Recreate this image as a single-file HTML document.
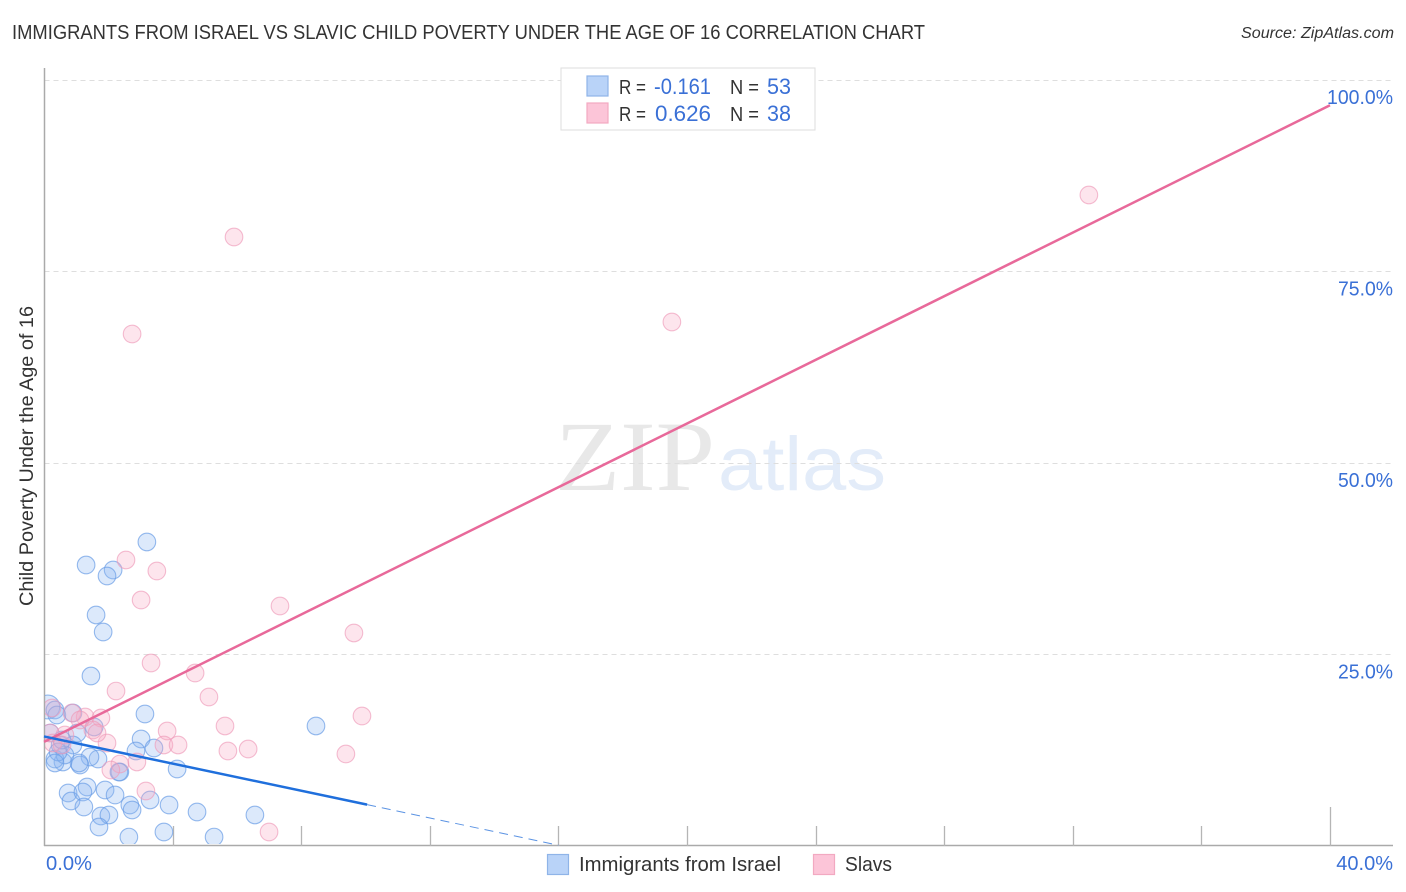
<!DOCTYPE html>
<html lang="en">
<head>
<meta charset="utf-8">
<title>Immigrants from Israel vs Slavic Child Poverty Correlation Chart</title>
<style>
  html, body { margin: 0; padding: 0; background: #fff; }
  svg { display: block; font-family: "Liberation Sans", sans-serif; }
</style>
</head>
<body>
<svg id="chart" xmlns="http://www.w3.org/2000/svg" width="1406" height="892" viewBox="0 0 1406 892">
  <defs>
    <clipPath id="plot-clip"><rect x="45" y="60" width="1348" height="784"></rect></clipPath>
  </defs>
  <rect x="0" y="0" width="1406" height="892" fill="#ffffff"></rect>

  <text x="12" y="39" font-size="20" fill="#333333" textLength="913" lengthAdjust="spacingAndGlyphs">IMMIGRANTS FROM ISRAEL VS SLAVIC CHILD POVERTY UNDER THE AGE OF 16 CORRELATION CHART</text>
  <text x="1394" y="38" font-size="15.5" font-style="italic" fill="#333333" text-anchor="end" textLength="153" lengthAdjust="spacingAndGlyphs">Source: ZipAtlas.com</text>

  <g>
    <text x="555" y="490" font-family="'Liberation Serif', serif" font-size="100" fill="#e8e8e8" textLength="160" lengthAdjust="spacingAndGlyphs">ZIP</text>
    <text x="718" y="490" font-size="76" fill="#e3ecf9" textLength="168" lengthAdjust="spacingAndGlyphs">atlas</text>
  </g>

  <g id="grid"></g>
  <g id="axes"></g>
  <g id="points" clip-path="url(#plot-clip)"></g>
  <g id="trends"></g>
  <g id="tick-labels"></g>

  <text transform="translate(33 456) rotate(-90)" font-size="19" fill="#333333" text-anchor="middle" textLength="300" lengthAdjust="spacingAndGlyphs">Child Poverty Under the Age of 16</text>

  <g>
    <rect x="561" y="68" width="254" height="62" fill="#ffffff" stroke="#dddddd"></rect>
    <rect x="587" y="76" width="21" height="20" fill="#b9d3f8" stroke="#8fb4e8" stroke-width="1.2"></rect>
    <rect x="587" y="103" width="21" height="20" fill="#fcc5d8" stroke="#f2a9c1" stroke-width="1.2"></rect>
    <text x="619" y="94" font-size="20" fill="#333333" textLength="27" lengthAdjust="spacingAndGlyphs">R =</text>
    <text x="711" y="94" font-size="22" fill="#3a70d6" text-anchor="end" textLength="57" lengthAdjust="spacingAndGlyphs">-0.161</text>
    <text x="730" y="94" font-size="20" fill="#333333" textLength="29" lengthAdjust="spacingAndGlyphs">N =</text>
    <text x="767" y="94" font-size="22" fill="#3a70d6" textLength="24" lengthAdjust="spacingAndGlyphs">53</text>
    <text x="619" y="121" font-size="20" fill="#333333" textLength="27" lengthAdjust="spacingAndGlyphs">R =</text>
    <text x="711" y="121" font-size="22" fill="#3a70d6" text-anchor="end" textLength="56" lengthAdjust="spacingAndGlyphs">0.626</text>
    <text x="730" y="121" font-size="20" fill="#333333" textLength="29" lengthAdjust="spacingAndGlyphs">N =</text>
    <text x="767" y="121" font-size="22" fill="#3a70d6" textLength="24" lengthAdjust="spacingAndGlyphs">38</text>
  </g>

  <g>
    <rect x="547.5" y="854.5" width="21" height="20" fill="#b9d3f8" stroke="#8fb4e8" stroke-width="1.2"></rect>
    <text x="579" y="871" font-size="20" fill="#333333" textLength="202" lengthAdjust="spacingAndGlyphs">Immigrants from Israel</text>
    <rect x="813.5" y="854.5" width="21" height="20" fill="#fcc5d8" stroke="#f2a9c1" stroke-width="1.2"></rect>
    <text x="845" y="871" font-size="20" fill="#333333" textLength="47" lengthAdjust="spacingAndGlyphs">Slavs</text>
  </g>
</svg>
<script>
const xTicks = [0, 4, 8, 12, 16, 20, 24, 28, 32, 36, 40];
const yGridValues = [25, 50, 75, 100];
const yTickLabels = ['25.0%', '50.0%', '75.0%', '100.0%'];
const xEndLabels = ['0.0%', '40.0%'];

const israelX = [3.20,1.31,2.15,1.96,1.62,1.84,1.46,0.12,0.34,0.40,0.90,3.14,8.46,1.56,1.03,0.90,3.02,3.42,2.86,4.14,1.68,1.43,1.12,1.09,0.59,0.34,2.36,2.33,0.75,0.84,1.34,1.21,1.24,1.90,2.21,3.30,2.67,2.74,3.89,4.76,1.77,2.02,1.71,2.64,3.73,5.29,6.56,0.50,0.65,0.44,0.19,0.34,0.56];
const israelY = [39.69,36.68,36.03,35.25,30.16,27.94,22.19,18.15,17.75,17.10,17.36,17.23,15.67,15.54,14.75,13.19,13.97,12.79,12.40,10.05,11.36,11.62,10.57,10.84,10.97,11.36,9.66,9.66,6.92,5.87,7.70,7.05,5.09,7.31,6.66,6.01,5.35,4.70,5.35,4.44,3.92,4.05,2.48,1.17,1.83,1.17,4.05,13.19,11.88,12.27,14.75,10.84,13.84];
const israelSize = [1,1,1,1,1,1,1,1.35,1,1,1,1,1,1,1,1,1,1,1,1,1,1,1,1,1,1,1,1,1,1,1,1,1,1,1,1,1,1,1,1,1,1,1,1,1,1,1,1,1,1,1,1,1];

const slavsX = [5.91,2.74,19.53,32.50,2.55,3.51,3.02,7.34,9.64,3.33,4.70,2.24,5.13,5.63,5.72,6.35,9.89,9.39,7.00,1.28,1.77,0.87,3.83,3.73,4.17,1.96,1.52,1.12,1.65,2.36,2.08,2.89,3.17,0.25,0.19,0.28,0.65,0.56];
const slavsY = [79.50,66.84,68.41,84.99,37.34,35.90,32.11,31.33,27.81,23.89,22.58,20.23,19.45,15.67,12.40,12.66,16.97,12.01,1.83,16.84,16.71,17.36,15.01,13.19,13.19,13.45,15.14,16.45,14.75,10.70,9.92,10.97,7.18,18.02,14.75,13.45,14.49,13.19];

const israelTrendX = [0, 10.05];
const israelTrendY = [14.3, 5.4];
const israelDashX = [10.05, 16];
const israelDashY = [5.4, 0.1];
const slavsTrendX = [0, 40];
const slavsTrendY = [13.6, 96.7];

const SVG_NS = 'http://www.w3.org/2000/svg';
function xScale(v) { return 44 + (v / 40) * 1286; }
function yScale(v) { return 846 - (v / 100) * 766; }

function make(tag, attrs, parent) {
  const el = document.createElementNS(SVG_NS, tag);
  for (const k in attrs) el.setAttribute(k, attrs[k]);
  parent.appendChild(el);
  return el;
}

const gridG = document.getElementById('grid');
const axesG = document.getElementById('axes');
const pointsG = document.getElementById('points');
const trendsG = document.getElementById('trends');
const labelsG = document.getElementById('tick-labels');

yGridValues.forEach(function (v, i) {
  const gy = Math.floor(yScale(v)) + 0.5;
  const line = make('line', { x1: 44.5, x2: 1393, y1: gy, y2: gy, stroke: '#dedede', 'stroke-width': 1, 'stroke-dasharray': '5 4' }, gridG);
  
  
  const label = make('text', { x: 1393, y: yScale(v) + 24, 'font-size': 20, fill: '#3a70d6', 'text-anchor': 'end', textLength: yTickLabels[i].length * 11, lengthAdjust: 'spacingAndGlyphs' }, labelsG);
  label.textContent = yTickLabels[i];
  
  
});

const yAxisLine = make('line', { x1: 44.5, x2: 44.5, y1: 68, y2: 846, stroke: '#aaaaaa', 'stroke-width': 1.5 }, axesG);


const xAxisLine = make('line', { x1: 44, x2: 1393, y1: 845.5, y2: 845.5, stroke: '#aaaaaa', 'stroke-width': 1.5 }, axesG);



xTicks.forEach(function (v, i) {
  if (i === 0) return;
  const top = i === xTicks.length - 1 ? 807 : 826;
  const tick = make('line', { x1: Math.round(xScale(v)) + 0.5, x2: Math.round(xScale(v)) + 0.5, y1: top, y2: 846, stroke: '#b5b5b5', 'stroke-width': 1.3 }, axesG);
  
  
});

const xLabelLeft = make('text', { x: 46, y: 870, 'font-size': 20, fill: '#3a70d6', textLength: 46, lengthAdjust: 'spacingAndGlyphs' }, labelsG);
xLabelLeft.textContent = xEndLabels[0];


const xLabelRight = make('text', { x: 1393, y: 870, 'font-size': 20, fill: '#3a70d6', 'text-anchor': 'end' }, labelsG);
xLabelRight.textContent = xEndLabels[1];



israelX.forEach(function (v, i) {
  const c = make('circle', { cx: xScale(v), cy: yScale(israelY[i]), r: 8.8 * israelSize[i], fill: '#8ab6f3', 'fill-opacity': 0.3, stroke: '#6a9de6', 'stroke-opacity': 0.7, 'stroke-width': 1.1 }, pointsG);
  
  
});

slavsX.forEach(function (v, i) {
  const c = make('circle', { cx: xScale(v), cy: yScale(slavsY[i]), r: 8.8, fill: '#f9a8c4', 'fill-opacity': 0.3, stroke: '#ee9ab8', 'stroke-opacity': 0.65, 'stroke-width': 1.1 }, pointsG);
  
  
});

const slavsLine = make('line', { x1: xScale(slavsTrendX[0]), y1: yScale(slavsTrendY[0]), x2: xScale(slavsTrendX[1]), y2: yScale(slavsTrendY[1]), stroke: '#e8699a', 'stroke-width': 2.5 }, trendsG);


const israelLine = make('line', { x1: xScale(israelTrendX[0]), y1: yScale(israelTrendY[0]), x2: xScale(israelTrendX[1]), y2: yScale(israelTrendY[1]), stroke: '#1f6fdc', 'stroke-width': 2.5 }, trendsG);


const israelDash = make('line', { x1: xScale(israelDashX[0]), y1: yScale(israelDashY[0]), x2: xScale(israelDashX[1]), y2: yScale(israelDashY[1]), stroke: '#5b93e3', 'stroke-width': 1, 'stroke-dasharray': '9 6' }, trendsG);


</script>
</body>
</html>
